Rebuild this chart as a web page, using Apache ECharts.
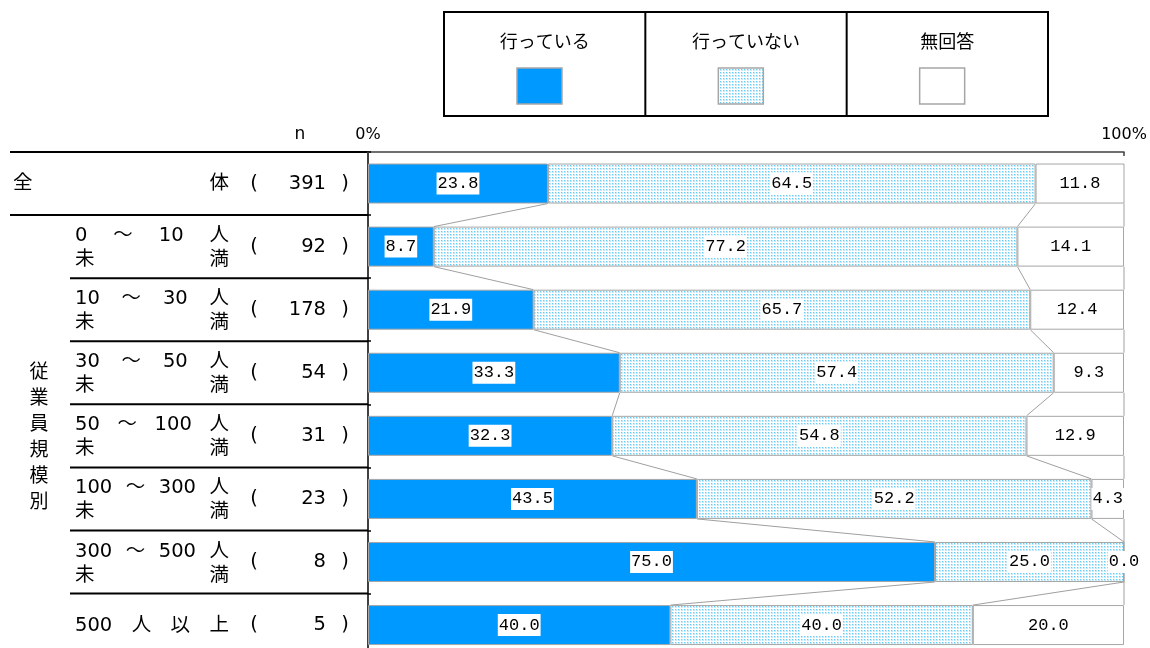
<!DOCTYPE html>
<html><head><meta charset="utf-8">
<script src="https://cdn.jsdelivr.net/npm/echarts@6/dist/echarts.min.js"></script>
<style>html,body{margin:0;padding:0;background:#fff}#c{width:1150px;height:648px}</style>
</head><body><div id="c"></div>
<script>
const seriesNames = ['行っている', '行っていない', '無回答'];
const categories = ['全体', '0～10人未満', '10～30人未満', '30～50人未満', '50～100人未満', '100～300人未満', '300～500人未満', '500人以上'];
const nValues = [391, 92, 178, 54, 31, 23, 8, 5];
const doing = [23.8, 8.7, 21.9, 33.3, 32.3, 43.5, 75.0, 40.0];
const notDoing = [64.5, 77.2, 65.7, 57.4, 54.8, 52.2, 25.0, 40.0];
const noAnswer = [11.8, 14.1, 12.4, 9.3, 12.9, 4.3, 0.0, 20.0];
const xTicks = [0, 100];
const groupLabel = '従業員規模別';
const nLabel = 'n';

const LEFT_FONT = '"DejaVu Sans", "Noto Sans CJK JP"';
const CJK_FONT = '"Noto Sans CJK JP", "DejaVu Sans"';
const LABEL_FONT = '"Liberation Mono", "DejaVu Sans Mono", monospace';
const BLUE = '#0099ff';
const EDGE = '#a6a6a6';

function makePattern() {
  const c = document.createElement('canvas');
  c.width = 3; c.height = 3;
  const g = c.getContext('2d');
  g.fillStyle = '#c2eafc'; g.fillRect(0, 0, 3, 3);
  g.fillStyle = '#ffffff'; g.fillRect(2, 0, 1, 3); g.fillRect(0, 2, 3, 1);
  g.fillStyle = '#66cdf7'; g.fillRect(0, 0, 1, 1);
  return c;
}
const patternCanvas = makePattern();
const dotFill = { image: patternCanvas, repeat: 'repeat' };
const fills = [BLUE, dotFill, '#ffffff'];
const seriesValues = [doing, notDoing, noAnswer];

const chart = echarts.init(document.getElementById('c'), null, { renderer: 'canvas' });

const cum = categories.map((_, i) => [doing[i], doing[i] + notDoing[i], doing[i] + notDoing[i] + noAnswer[i]]);
const BAR_W = 40;

const barSeries = seriesNames.map((name, s) => ({
  name, type: 'bar', stack: 'total', barWidth: BAR_W, z: 3,
  data: seriesValues[s],
  itemStyle: { color: fills[s], borderColor: EDGE, borderWidth: 1 },
  label: {
    show: true, position: 'inside', color: '#000', backgroundColor: '#fff',
    padding: [3, 1, 2, 1], fontFamily: LABEL_FONT, fontSize: 17,
    formatter: p => Number(p.value).toFixed(1)
  },
  emphasis: { disabled: true }
}));

const connector = {
  type: 'custom', coordinateSystem: 'cartesian2d', silent: true, z: 2,
  data: categories.slice(0, -1).map((_, i) => [0, i]),
  renderItem: (params, api) => {
    const i = params.dataIndex;
    const half = BAR_W / 2;
    const children = [];
    for (let k = 0; k < 3; k++) {
      const a = api.coord([Math.min(cum[i][k], 100), i]);
      const b = api.coord([Math.min(cum[i + 1][k], 100), i + 1]);
      children.push({ type: 'line', shape: { x1: a[0], y1: a[1] + half, x2: b[0], y2: b[1] - half },
        style: { stroke: '#a0a0a0', lineWidth: 1 } });
    }
    return { type: 'group', children };
  }
};

chart.setOption({
  animation: false,
  backgroundColor: '#fff',
  grid: { left: 368, right: 26, top: 152, height: 504.6, outerBoundsMode: 'none', containLabel: false },
  xAxis: {
    type: 'value', position: 'top', min: xTicks[0], max: xTicks[1], interval: xTicks[1] - xTicks[0],
    axisLine: { show: true, lineStyle: { color: '#404040', width: 1.5 } },
    axisTick: { show: true, inside: true, length: 4, lineStyle: { color: '#404040', width: 1.5 } },
    splitLine: { show: false },
    axisLabel: { formatter: v => v + '%', fontSize: 16, color: '#000', margin: 9, fontFamily: LEFT_FONT }
  },
  yAxis: {
    type: 'category', inverse: true, data: categories,
    axisLine: { show: true, lineStyle: { color: '#000', width: 1.5 } },
    axisTick: { show: true, inside: true, length: 3, lineStyle: { color: '#000', width: 1.5 } },
    axisLabel: { show: false }, splitLine: { show: false }
  },
  series: [...barSeries, connector]
});

// ---- left table labels, legend ----
const mctx = document.createElement('canvas').getContext('2d');
function measure(t, font) { mctx.font = font; return mctx.measureText(t).width; }
const FS = 19.5;
const fontStr = FS + 'px ' + LEFT_FONT;

function distribute(tokens, x0, x1, y, out) {
  const ws = tokens.map(t => measure(t, fontStr));
  const total = ws.reduce((a, b) => a + b, 0);
  const gap = tokens.length > 1 ? (x1 - x0 - total) / (tokens.length - 1) : 0;
  let x = x0;
  tokens.forEach((t, j) => {
    out.push({ type: 'text', x, y, silent: true,
      style: { text: t, fontSize: FS, fontFamily: LEFT_FONT, fill: '#000', textAlign: 'left', textVerticalAlign: 'middle' } });
    x += ws[j] + gap;
  });
}

const g = [];
const centers = categories.map((c, i) => chart.convertToPixel({ yAxisIndex: 0 }, i));
const band = centers[1] - centers[0];
const axisX = chart.convertToPixel({ xAxisIndex: 0 }, 0);

categories.forEach((cat, i) => {
  const yc = centers[i];
  let m;
  if (i === 0) {
    distribute(cat.split(''), 13, 229, yc, g);
  } else if ((m = cat.match(/^(\d+)～(\d+)人未満$/))) {
    distribute([m[1], '～', m[2], '人'], 75, 229, yc - 10.5, g);
    distribute(['未', '満'], 75, 229, yc + 13.5, g);
  } else if ((m = cat.match(/^(\d+)人以上$/))) {
    distribute([m[1], '人', '以', '上'], 75, 229, yc + 1, g);
  }
  g.push({ type: 'text', x: 254, y: yc, silent: true,
    style: { text: '(', fontSize: FS, fontFamily: LEFT_FONT, fill: '#000', textAlign: 'center', textVerticalAlign: 'middle' } });
  g.push({ type: 'text', x: 326, y: yc, silent: true,
    style: { text: String(nValues[i]), fontSize: FS, fontFamily: LEFT_FONT, fill: '#000', textAlign: 'right', textVerticalAlign: 'middle' } });
  g.push({ type: 'text', x: 345, y: yc, silent: true,
    style: { text: ')', fontSize: FS, fontFamily: LEFT_FONT, fill: '#000', textAlign: 'center', textVerticalAlign: 'middle' } });
});

// table lines at band boundaries
for (let k = 0; k < categories.length; k++) {
  const y = centers[k] - band / 2;
  const x0 = k <= 1 ? 10 : 70;
  g.push({ type: 'line', silent: true, shape: { x1: x0, y1: y, x2: axisX, y2: y }, style: { stroke: '#000', lineWidth: 2 } });
}

// vertical group label
const gTop = centers[1] - band / 2, gBot = centers[categories.length - 1] + band / 2;
const gMid = (gTop + gBot) / 2;
groupLabel.split('').forEach((ch, j, arr) => {
  g.push({ type: 'text', x: 39, y: gMid + (j - (arr.length - 1) / 2) * 26, silent: true,
    style: { text: ch, fontSize: 19, fontFamily: CJK_FONT, fill: '#000', textAlign: 'center', textVerticalAlign: 'middle' } });
});

// n header
g.push({ type: 'text', x: 300, y: 135, silent: true,
  style: { text: nLabel, fontSize: 17, fontFamily: LEFT_FONT, fill: '#000', textAlign: 'center', textVerticalAlign: 'middle' } });

// legend table
const LX = 444, LY = 12, LW = 604, LH = 104;
const cellW = LW / seriesNames.length;
g.push({ type: 'rect', silent: true, shape: { x: LX, y: LY, width: LW, height: LH }, style: { fill: 'none', stroke: '#000', lineWidth: 2 } });
seriesNames.forEach((name, s) => {
  const cx = LX + cellW * s;
  if (s > 0) g.push({ type: 'line', silent: true, shape: { x1: cx, y1: LY, x2: cx, y2: LY + LH }, style: { stroke: '#000', lineWidth: 2 } });
  g.push({ type: 'text', x: cx + cellW / 2, y: 41, silent: true,
    style: { text: name, fontSize: 18, fontFamily: CJK_FONT, fill: '#000', textAlign: 'center', textVerticalAlign: 'middle' } });
  g.push({ type: 'rect', silent: true, shape: { x: cx + 73, y: 68, width: 45, height: 36 },
    style: { fill: fills[s], stroke: EDGE, lineWidth: 1.5 } });
});

chart.setOption({ graphic: { elements: g } });
</script>
</body></html>
